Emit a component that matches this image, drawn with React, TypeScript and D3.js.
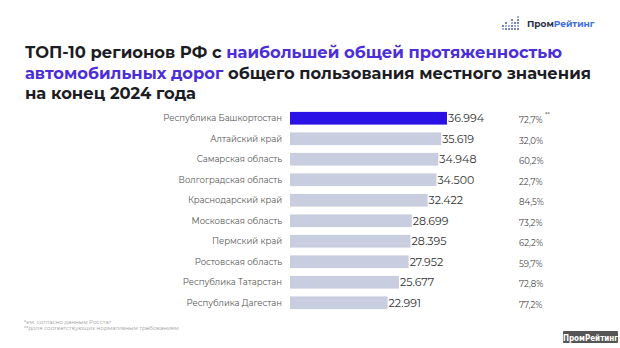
import React from "react";
import * as d3 from "d3";

const regions = [
  "Республика Башкортостан",
  "Алтайский край",
  "Самарская область",
  "Волгоградская область",
  "Краснодарский край",
  "Московская область",
  "Пермский край",
  "Ростовская область",
  "Республика Татарстан",
  "Республика Дагестан",
];
const lengths = [36.994, 35.619, 34.948, 34.5, 32.422, 28.699, 28.395, 27.952, 25.677, 22.991];
const valueLabels = ["36.994", "35.619", "34.948", "34.500", "32.422", "28.699", "28.395", "27.952", "25.677", "22.991"];
const shares = ["72,7%", "32,0%", "60,2%", "22,7%", "84,5%", "73,2%", "62,2%", "59,7%", "72,8%", "77,2%"];

const FONT = "Montserrat, Inter, 'Open Sans', sans-serif";

export default function App() {
  const W = 620, H = 348;
  const x = d3.scaleLinear().domain([0, 36.994]).range([290, 447]);
  const y = d3.scaleBand<string>().domain(regions).range([108, 313]).paddingInner(0.38).paddingOuter(0.19);
  const bh = y.bandwidth();

  const dots: [number, number][] = [];
  const cols = [2, 3, 2, 4, 3, 5];
  cols.forEach((n, ci) => {
    for (let r = 0; r < n; r++) dots.push([503 + ci * 3, 29 - r * 3]);
  });

  return (
    <svg width={W} height={H} style={{ position: "absolute", left: 0, top: 0, background: "#fff" }} fontFamily={FONT}>
      <rect width={W} height={H} fill="#fff" />
      <g>
        {dots.map(([cx, cy], i) => (
          <circle key={i} cx={cx} cy={cy} r={0.9} fill={i % 3 === 0 ? "#7a8bd8" : "#3a4a9a"} />
        ))}
        <text x={527} y={27} fontSize={9} fontWeight={700} fill="#2a2f45">
          Пром<tspan fill="#3f6fe0">Рейтинг</tspan>
        </text>
      </g>
      <g fontSize={16.5} fontWeight={700} fill="#1c1c24">
        <text x={25} y={58} textLength={537} lengthAdjust="spacingAndGlyphs">
          ТОП-10 регионов РФ с <tspan fill="#4b2ed8">наибольшей общей протяженностью</tspan>
        </text>
        <text x={25} y={79} textLength={566} lengthAdjust="spacingAndGlyphs">
          <tspan fill="#4b2ed8">автомобильных дорог</tspan> общего пользования местного значения
        </text>
        <text x={25} y={99} textLength={171} lengthAdjust="spacingAndGlyphs">на конец 2024 года</text>
      </g>
      {regions.map((r, i) => {
        const yy = y(r)!;
        const cy = yy + bh / 2;
        return (
          <g key={r}>
            <text x={282} y={cy} dy="0.35em" textAnchor="end" fontSize={8.5} fill="#555">
              {r}
            </text>
            <rect x={x(0)} y={yy} width={x(lengths[i]) - x(0)} height={bh} fill={i === 0 ? "#2a12e6" : "#c9cde0"} />
            <text x={x(lengths[i]) + 1} y={cy} dy="0.35em" fontSize={11} fill="#333">
              {valueLabels[i]}
            </text>
            <text x={519} y={cy + 2} dy="0.35em" fontSize={8.5} fill="#444">
              {shares[i]}
            </text>
            {i === 0 && (
              <text x={545} y={cy - 2} fontSize={6} fill="#444">**</text>
            )}
          </g>
        );
      })}
      <g fontSize={5.6} fill="#999">
        <text x={24} y={324}>*км. согласно данным Росстат</text>
        <text x={24} y={330}>**доля соответствующих нормативным требованиям</text>
      </g>
      <rect x={563} y={331} width={55} height={12} rx={1} fill="#555" />
      <text x={590.5} y={340.5} textAnchor="middle" fontSize={8} fontWeight={700} fill="#fff" fontFamily="'DejaVu Sans Condensed', 'Liberation Sans Narrow', Arial, sans-serif">
        ПромРейтинг
      </text>
    </svg>
  );
}
